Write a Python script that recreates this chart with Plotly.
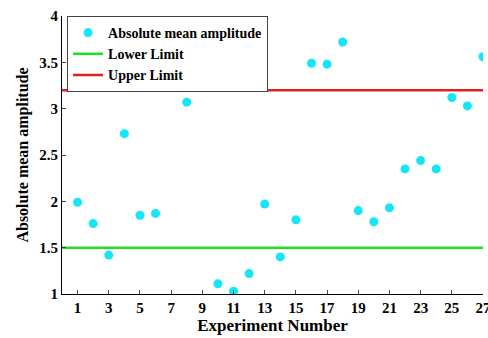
import plotly.graph_objects as go

experiments = [1, 2, 3, 4, 5, 6, 8, 9, 10, 11, 12, 13, 14, 15, 16, 17, 18,
               19, 20, 21, 22, 23, 24, 25, 26, 27]
amplitude = [1.99, 1.76, 1.42, 2.73, 1.85, 1.87, 3.07, 3.38, 1.11, 1.03, 1.22,
             1.97, 1.40, 1.80, 3.49, 3.48, 3.72, 1.90, 1.78, 1.93, 2.35, 2.44,
             2.35, 3.12, 3.03, 3.56]
limit_x = [0, 27]
lower_limit = [1.5, 1.5]
upper_limit = [3.2, 3.2]
x_ticks = [1, 3, 5, 7, 9, 11, 13, 15, 17, 19, 21, 23, 25, 27]
y_ticks = [1, 1.5, 2, 2.5, 3, 3.5, 4]
y_tick_text = ["1", "1.5", "2", "2.5", "3", "3.5", "4"]

font_family = "Liberation Serif, Times New Roman, serif"

fig = go.Figure()
fig.add_trace(go.Scatter(x=experiments, y=amplitude, mode="markers",
                         name="Absolute mean amplitude",
                         marker=dict(color="#14E6F5", size=9)))
fig.add_trace(go.Scatter(x=limit_x, y=lower_limit, mode="lines",
                         name="Lower Limit",
                         line=dict(color="#22DD22", width=2.5)))
fig.add_trace(go.Scatter(x=limit_x, y=upper_limit, mode="lines",
                         name="Upper Limit",
                         line=dict(color="#E02020", width=2.5)))

tick_font = dict(size=15, family=font_family, weight="bold", color="black")

fig.update_layout(
    width=488, height=338,
    margin=dict(l=62, r=5, t=16, b=44),
    paper_bgcolor="white", plot_bgcolor="white",
    font=dict(family=font_family, color="black"),
    showlegend=True,
    legend=dict(x=0.012, y=1.0, xanchor="left", yanchor="top",
                bordercolor="#444", borderwidth=1, bgcolor="white",
                font=dict(family=font_family, size=14, color="black",
                          weight="bold"),
                tracegroupgap=0, itemwidth=30),
    xaxis=dict(range=[0, 27], tickvals=x_ticks, ticks="inside", ticklen=4,
               showline=True, linecolor="black", linewidth=1, showgrid=False,
               zeroline=False, tickfont=tick_font, automargin=False,
               ticklabeloverflow="allow",
               title=dict(text="Experiment Number", standoff=0,
                          font=dict(size=17, family=font_family,
                                    weight="bold"))),
    yaxis=dict(range=[1, 4], tickvals=y_ticks, ticktext=y_tick_text,
               ticks="inside", ticklen=4, showline=True, linecolor="black",
               linewidth=1, showgrid=False, zeroline=False,
               tickfont=tick_font, automargin=False,
               title=dict(text="Absolute mean amplitude", standoff=6,
                          font=dict(size=16, family=font_family,
                                    weight="bold"))),
)

fig.write_html("out.html",
               config={"displayModeBar": False},
               post_script="document.body.style.margin='0px';"
                           "document.body.style.overflow='hidden';")
